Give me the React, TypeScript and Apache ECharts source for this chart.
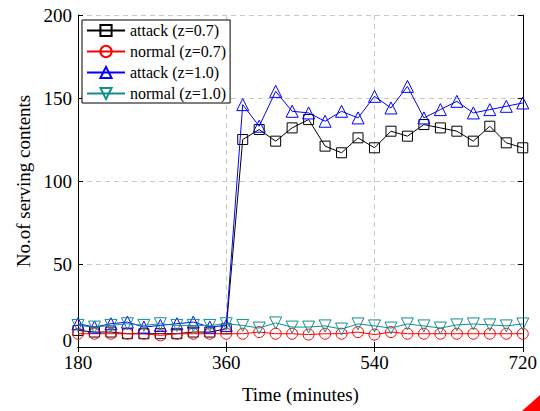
import React, { useEffect, useRef } from "react";
import * as echarts from "echarts";

const times = [180, 200, 220, 240, 260, 280, 300, 320, 340, 360, 380, 400, 420, 440, 460, 480, 500, 520, 540, 560, 580, 600, 620, 640, 660, 680, 700, 720];
const attack07 = [10, 9, 9, 8, 8, 8, 8, 9, 9, 11, 125, 131, 124, 132, 137, 121, 117, 126, 120, 130, 127, 134, 132, 130, 124, 133, 123, 120];
const normal07 = [8, 8, 8, 8, 8, 7, 8, 8, 8, 8, 8, 9, 8, 8, 7.5, 8, 8, 9, 7.5, 9, 8, 8, 8, 8, 8, 8, 8, 8];
const attack10 = [14, 12, 14, 15, 12, 13, 14, 15, 12, 13, 146, 133, 154, 142, 141, 136, 142, 138, 151, 144, 157, 138, 143, 148, 141, 143, 145, 147];
const normal10 = [13, 12, 13, 14, 13, 14, 13, 13, 13, 14, 13, 11.4, 14.5, 12, 12, 12.7, 10.8, 13.9, 12.7, 11.4, 13.9, 12.7, 11.4, 13.3, 13.9, 13.3, 12.7, 13.9];
const seriesNames = ["attack (z=0.7)", "normal (z=0.7)", "attack (z=1.0)", "normal (z=1.0)"];
const xTicks = [180, 360, 540, 720];
const yTicks = [0, 50, 100, 150, 200];

const FONT = "'Liberation Serif', 'Times New Roman', serif";

export default function App() {
  const ref = useRef<HTMLDivElement>(null);
  useEffect(() => {
    if (!ref.current) return;
    const chart = echarts.init(ref.current, null, { renderer: "svg" });
    const pairs = (arr: number[]) => times.map((t, i) => [t, arr[i]]);
    const colors = ["#000000", "#ff0000", "#0000ff", "#138d8d"];
    const symbols = ["rect", "circle", "triangle", "path://M0,0 L10,0 L5,9 Z"];
    const sizes = [10, 11, 12, 12];
    const datas = [attack07, normal07, attack10, normal10];
    const series = datas.map((d, i) => ({
      name: seriesNames[i],
      type: "line",
      data: pairs(d),
      symbol: symbols[i],
      symbolSize: sizes[i],
      showAllSymbol: true,
      lineStyle: { color: colors[i], width: 1 },
      itemStyle: { color: "rgba(0,0,0,0)", borderColor: colors[i], borderWidth: 1 },
      emphasis: { disabled: true },
      z: 2 + i,
    }));
    const axisCommon = {
      axisLine: { show: true, lineStyle: { color: "#000", width: 1 } },
      axisTick: { show: true, inside: true, length: 5, lineStyle: { color: "#000" } },
    };
    const labelStyle = { fontFamily: FONT, fontSize: 19, fontWeight: "normal", color: "#000" };
    chart.setOption({
      animation: false,
      backgroundColor: "#fff",
      grid: { left: 78, top: 15, width: 445, height: 332, show: false },
      legend: {
        left: 82,
        top: 20,
        orient: "vertical",
        data: seriesNames,
        backgroundColor: "#fff",
        borderColor: "#000",
        borderWidth: 1,
        borderRadius: 0,
        padding: [1, 4, 0, 4],
        itemGap: 2,
        itemWidth: 38,
        itemHeight: 14,
        textStyle: { fontFamily: FONT, fontSize: 16, fontWeight: "normal", color: "#000", lineHeight: 19 },
      },
      xAxis: [
        {
          type: "value",
          min: 180,
          max: 720,
          interval: 180,
          position: "bottom",
          ...axisCommon,
          axisLabel: { ...labelStyle, margin: 6, formatter: (v: number) => (xTicks.includes(v) ? String(v) : "") },
          splitLine: { show: true, lineStyle: { color: "#c8c8c8", type: [5, 4], width: 1 } },
          name: "Time (minutes)",
          nameLocation: "middle",
          nameGap: 38,
          nameTextStyle: { ...labelStyle },
        },
        {
          type: "value",
          min: 180,
          max: 720,
          interval: 180,
          position: "top",
          ...axisCommon,
          axisLabel: { show: false },
          splitLine: { show: false },
        },
      ],
      yAxis: [
        {
          type: "value",
          min: 0,
          max: 200,
          interval: 50,
          position: "left",
          ...axisCommon,
          axisLabel: {
            ...labelStyle,
            margin: 6,
            formatter: (v: number) => (v === 0 ? "{z|0}" : yTicks.includes(v) ? String(v) : ""),
            rich: { z: { ...labelStyle, padding: [0, 0, 14, 0] } },
          },
          splitLine: { show: true, lineStyle: { color: "#c8c8c8", type: [5, 4], width: 1 } },
          name: "No.of serving contents",
          nameLocation: "middle",
          nameGap: 44,
          nameTextStyle: { ...labelStyle },
        },
        {
          type: "value",
          min: 0,
          max: 200,
          interval: 50,
          position: "right",
          ...axisCommon,
          axisLabel: { show: false },
          splitLine: { show: false },
        },
      ],
      series,
      graphic: [
        {
          type: "polygon",
          shape: { points: [[522, 411], [540, 411], [540, 395]] },
          style: { fill: "#ff0000" },
          silent: true,
        },
      ],
    });
    return () => chart.dispose();
  }, []);
  return <div ref={ref} style={{ position: "fixed", left: 0, top: 0, width: 540, height: 411 }} />;
}
